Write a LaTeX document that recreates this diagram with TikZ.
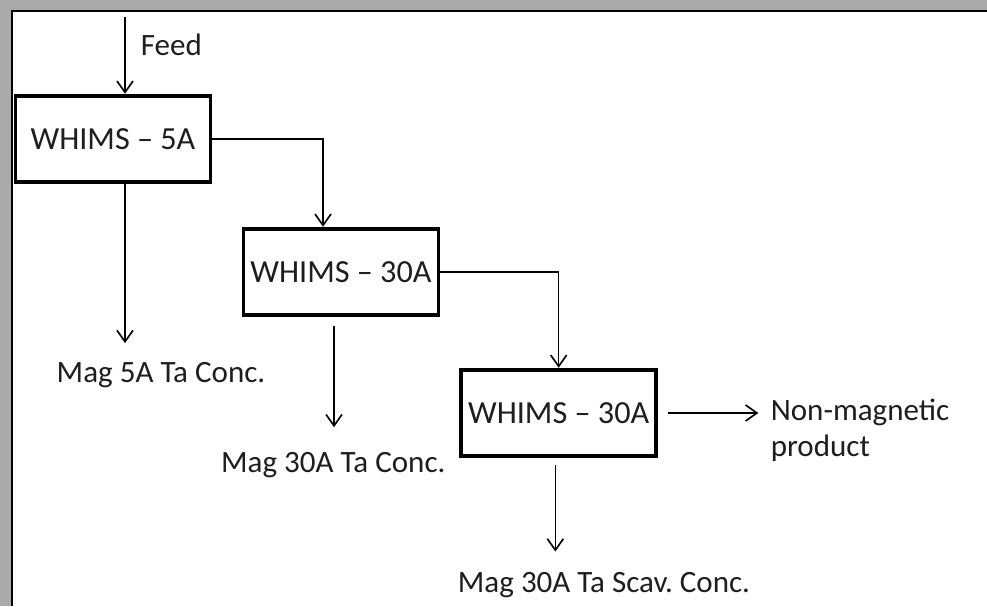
\documentclass[tikz,border=0pt]{standalone}
\usepackage{fontspec}
\setmainfont{Carlito}
\usetikzlibrary{arrows.meta,positioning,calc}
\definecolor{framegray}{RGB}{170,170,170}
\definecolor{txtgray}{RGB}{30,30,30}
\frenchspacing
\begin{document}
\begin{tikzpicture}[
  unitbox/.style={draw=black, line width=3.2pt, minimum width=5.85cm, minimum height=2.6cm, align=center, font=\fontsize{27.5}{32}\selectfont, text=txtgray, inner sep=1pt},
  lbl/.style={font=\fontsize{26.5}{31}\selectfont, text=txtgray, align=left},
  flow/.style={draw=black, line width=1.3pt, -{Straight Barb[length=3.4mm, width=4.8mm, line width=1.4pt]}}
]
  %% Page and frame
  \useasboundingbox (0,0) rectangle (29.61,18.18);
  \fill[white] (0,0) rectangle (29.61,18.18);
  \fill[framegray] (0,17.88) rectangle (29.61,18.18);
  \fill[framegray] (0,0) rectangle (0.33,18.18);
  \draw[black, line width=1pt] (0.36,0) -- (0.36,17.85) -- (29.61,17.85);

  %% Separator stages
  \node[unitbox] (b1) at (3.39,14.01) {WHIMS -- 5A};
  \node[unitbox] (b2) at (10.23,10.02) {WHIMS -- 30A};
  \node[unitbox] (b3) at (16.76,5.79) {WHIMS -- 30A};

  %% Feed
  \coordinate (feed) at (3.75,17.67);
  \node[lbl, anchor=west] (feedlbl) at (4.1,16.83) {Feed};
  \draw[flow] (feed) -- (feed |- b1.north);

  %% Products
  \node[lbl] (mag5) at (4.83,6.93) {Mag 5A Ta Conc.};
  \node[lbl] (mag30) at (10.0,4.23) {Mag 30A Ta Conc.};
  \node[lbl] (scav) at (18.12,0.63) {Mag 30A Ta Scav. Conc.};
  \node[lbl, anchor=west] (nonmag) at (23.0,5.28) {Non-magnetic\\product};

  %% Flow lines
  \draw[flow] (b1.east) -| ($(b2.north)+(-0.54,0)$);
  \draw[flow] (b2.east) -| (b3.north);
  \draw[flow] (feed |- b1.south) -- ($(feed |- mag5.north)+(0,0.45)$);
  \draw[flow, shorten <=0.25cm] ($(b2.south)+(-0.21,0)$) -- ($(b2.south)+(-0.21,-3.3)$);
  \draw[flow, shorten <=0.2cm] ($(b3.south)+(-0.1,0)$) -- ($(b3.south)+(-0.1,-2.8)$);
  \draw[flow, shorten <=0.3cm, shorten >=0.25cm] (b3.east) -- (b3.east -| nonmag.west);
\end{tikzpicture}
\end{document}
